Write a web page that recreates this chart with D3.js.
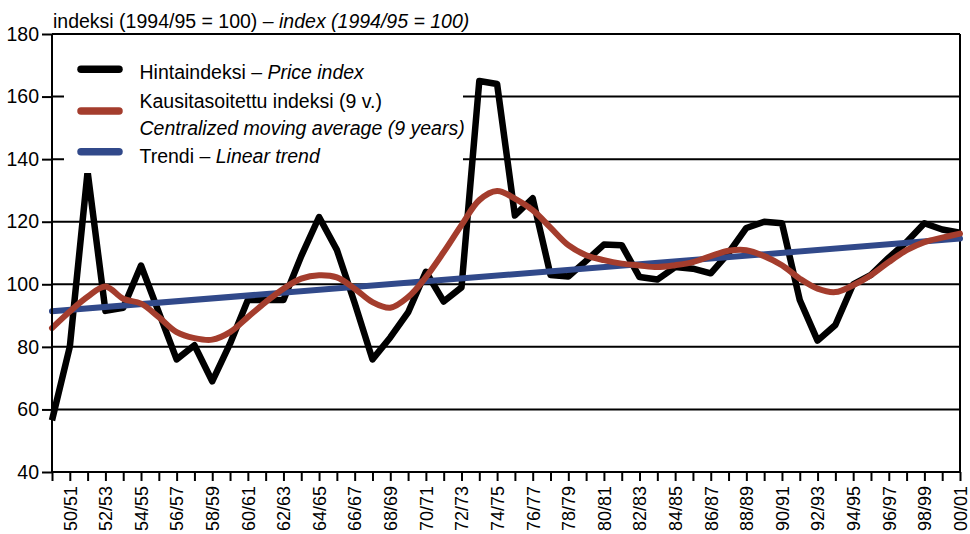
<!DOCTYPE html>
<html>
<head>
<meta charset="utf-8">
<script src="https://cdn.jsdelivr.net/npm/d3@7"></script>
<style>
  body { margin: 0; background: #fff; }
  svg { display: block; font-family: "Liberation Sans", Arial, sans-serif; }
  .axis path, .axis line { stroke: #000; stroke-width: 2; }
  .axis text { fill: #000; }
</style>
</head>
<body>
<div id="chart-area"></div>
<script>
// Data
let categories = ['49/50', '50/51', '51/52', '52/53', '53/54', '54/55', '55/56', '56/57', '57/58', '58/59',
  '59/60', '60/61', '61/62', '62/63', '63/64', '64/65', '65/66', '66/67', '67/68', '68/69',
  '69/70', '70/71', '71/72', '72/73', '73/74', '74/75', '75/76', '76/77', '77/78', '78/79',
  '79/80', '80/81', '81/82', '82/83', '83/84', '84/85', '85/86', '86/87', '87/88', '88/89',
  '89/90', '90/91', '91/92', '92/93', '93/94', '94/95', '95/96', '96/97', '97/98', '98/99',
  '99/00', '00/01'];

let priceIndex = [56.5, 80, 136, 91.5, 92.5, 106, 91, 76, 80.5, 69,
  81, 95, 95, 95, 109, 121.5, 111, 94, 76, 83,
  91, 104, 94.5, 99, 165, 164, 122, 127.5, 103, 102.5,
  107.5, 112.7, 112.5, 102.3, 101.5, 105.5, 105, 103.5, 110, 118,
  120, 119.5, 95, 82, 87, 100, 103, 108.5, 113.5, 119.5,
  117.5, 116.5];

let movingAverage = [86, 91.3, 96, 99.3, 95.4, 93.8, 89.5, 84.7, 82.8, 82.3,
  84.7, 89.5, 94.3, 98.6, 101.8, 102.9, 102.2, 98.6, 94.3, 92.5,
  95.9, 102.3, 110.3, 118.9, 126.9, 129.8, 127.4, 123.7, 118.1, 112.5,
  109.3, 107.7, 106.6, 106, 105.5, 106.1, 107.1, 109, 110.7, 110.9,
  109, 106.1, 101.8, 98.6, 97.5, 99.7, 102.9, 107.1, 110.9, 113.5,
  114.9, 116.2];

// linear trend: start and end points
let trendCategories = ['49/50', '00/01'];
let trendValues = [91.4, 114.6];

let yTicks = [40, 60, 80, 100, 120, 140, 160, 180];
let xTickLabels = categories.filter((d, i) => i % 2 === 1);

let title = ['indeksi (1994/95 = 100) – ', 'index (1994/95 = 100)'];
let legendItems = [
  { color: '#000000', lines: [['Hintaindeksi – ', 'Price index']] },
  { color: '#a43d2d', lines: [['Kausitasoitettu indeksi (9 v.)', ''], ['', 'Centralized moving average (9 years)']] },
  { color: '#31498a', lines: [['Trendi – ', 'Linear trend']] }
];

// SVG drawing area
let margin = { top: 34, right: 10, bottom: 62, left: 52 };

let width = 970 - margin.left - margin.right,
  height = 534 - margin.top - margin.bottom;

let root = d3
  .select('#chart-area')
  .append('svg')
  .attr('width', width + margin.left + margin.right)
  .attr('height', height + margin.top + margin.bottom);

let svg = root
  .append('g')
  .attr('transform', 'translate(' + margin.left + ',' + margin.top + ')');

// Scales
let x = d3.scalePoint().domain(categories).range([0, width]);
let y = d3.scaleLinear().domain([40, 180]).range([height, 0]);

// Gridlines
svg.append('g')
  .selectAll('line')
  .data(yTicks.slice(1))
  .enter()
  .append('line')
  .attr('x1', 0)
  .attr('x2', width)
  .attr('y1', d => y(d))
  .attr('y2', d => y(d))
  .attr('stroke', '#000')
  .attr('stroke-width', 2);

// right border
svg.append('line')
  .attr('x1', width).attr('x2', width)
  .attr('y1', 0).attr('y2', height)
  .attr('stroke', '#000')
  .attr('stroke-width', 2);

// Lines
let line = d3.line()
  .x((d, i) => x(categories[i]))
  .y(d => y(d));

svg.append('path')
  .datum(priceIndex)
  .attr('d', line)
  .attr('fill', 'none')
  .attr('stroke', '#000')
  .attr('stroke-width', 6.5)
  .attr('stroke-linejoin', 'round');

svg.append('path')
  .datum(trendValues)
  .attr('d', d3.line().x((d, i) => x(trendCategories[i])).y(d => y(d)))
  .attr('fill', 'none')
  .attr('stroke', '#31498a')
  .attr('stroke-width', 6)
  .attr('stroke-linecap', 'round');

svg.append('path')
  .datum(movingAverage)
  .attr('d', line.curve(d3.curveCatmullRom))
  .attr('fill', 'none')
  .attr('stroke', '#a43d2d')
  .attr('stroke-width', 6)
  .attr('stroke-linecap', 'round');

// Legend (white box hides gridlines and the line below it)
svg.append('rect')
  .attr('x', 12)
  .attr('y', 6)
  .attr('width', 399)
  .attr('height', 133)
  .attr('fill', '#fff');

let swatchY = [35.3, 77, 117.7];
let textY = [45, 73.5, 101, 129];
let row = 0;
legendItems.forEach((item, k) => {
  svg.append('line')
    .attr('x1', 29).attr('x2', 67)
    .attr('y1', swatchY[k]).attr('y2', swatchY[k])
    .attr('stroke', item.color)
    .attr('stroke-width', 7.5)
    .attr('stroke-linecap', 'round');
  item.lines.forEach(parts => {
    let t = svg.append('text')
      .attr('x', 87.5)
      .attr('y', textY[row])
      .attr('font-size', '19.5px');
    t.append('tspan').text(parts[0]);
    t.append('tspan').attr('font-style', 'italic').text(parts[1]);
    row++;
  });
});

// Axes
let xAxis = d3.axisBottom(x)
  .tickSize(9)
  .tickFormat(d => (xTickLabels.includes(d) ? d : ''));
let xSvg = svg.append('g')
  .attr('class', 'x-axis axis')
  .attr('transform', 'translate(0,' + height + ')')
  .call(xAxis);
xSvg.select('.domain').attr('d', 'M0,0H' + width);
xSvg.selectAll('text')
  .attr('font-size', '18px')
  .attr('font-family', '"Liberation Sans", Arial, sans-serif')
  .attr('text-anchor', 'end')
  .attr('transform', 'rotate(-90)')
  .attr('x', -14)
  .attr('y', 0)
  .attr('dy', '0.35em');

let yAxis = d3.axisLeft(y).tickValues(yTicks).tickSize(10).tickPadding(3);
let ySvg = svg.append('g')
  .attr('class', 'y-axis axis')
  .call(yAxis);
ySvg.select('.domain').attr('d', 'M0,0V' + height);
ySvg.selectAll('text')
  .attr('font-size', '19.5px')
  .attr('font-family', '"Liberation Sans", Arial, sans-serif');

// Title
let tt = root.append('text')
  .attr('x', 53)
  .attr('y', 27.5)
  .attr('font-size', '19.5px');
tt.append('tspan').text(title[0]);
tt.append('tspan').attr('font-style', 'italic').text(title[1]);
</script>
</body>
</html>
